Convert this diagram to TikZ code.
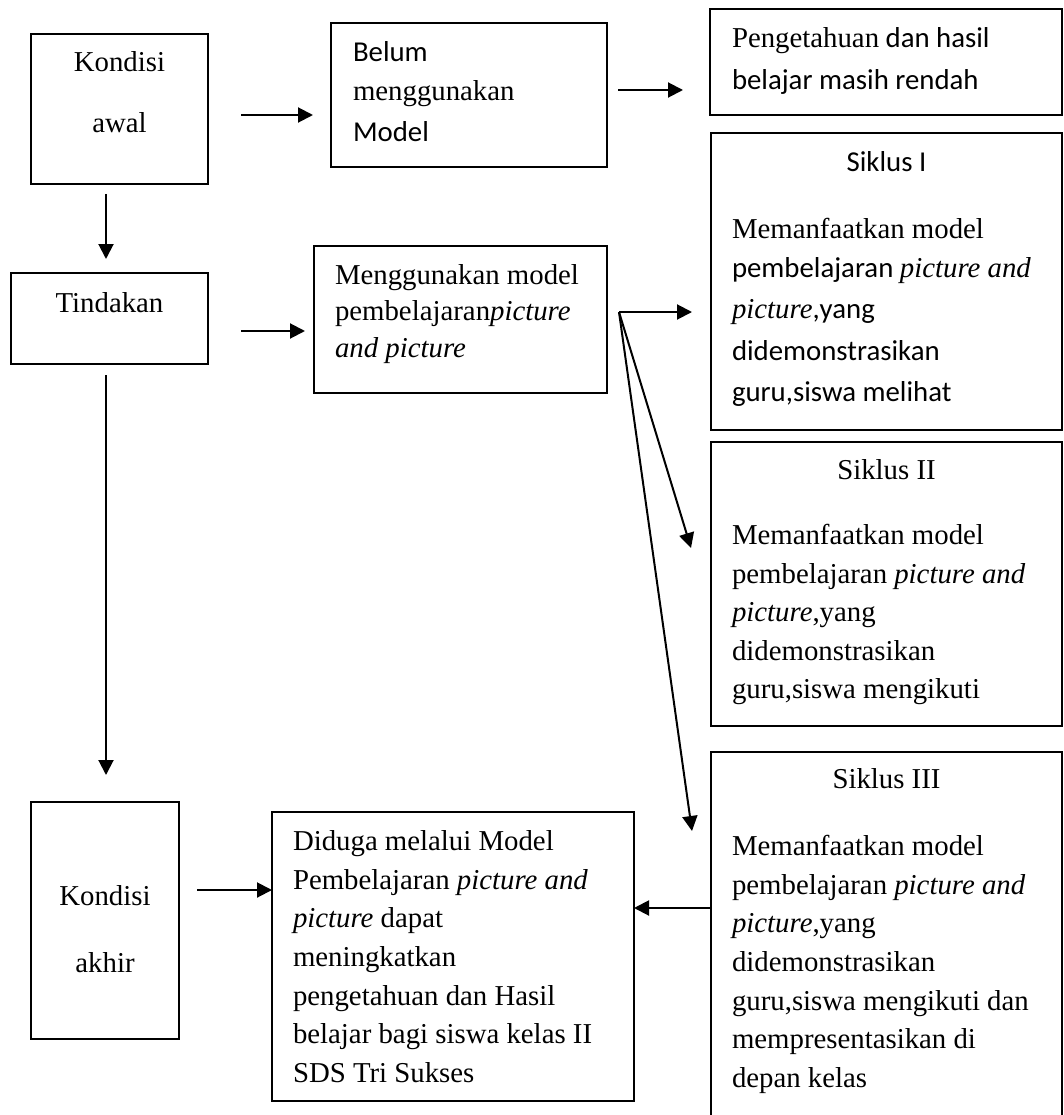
\documentclass[tikz,border=0pt]{standalone}
\usepackage{fontspec}
\setmainfont{Liberation Serif}
\newfontfamily\calib{Carlito}
\usetikzlibrary{arrows.meta}
\begin{document}
\begin{tikzpicture}[x=1pt,y=-1pt,
  box/.style={draw, line width=2pt, inner sep=0pt, outer sep=0pt, anchor=north west},
  arr/.style={line width=2pt, -{Triangle[length=15pt,width=15pt]}},
  txt/.style={inner sep=0pt, outer sep=0pt, font=\fontsize{28.8}{34}\selectfont},
  tl/.style={txt, anchor=base west},
  tc/.style={txt, anchor=base},
]
\useasboundingbox[fill=white] (0,0) rectangle (1064,1115);

% boxes
\node[box, minimum width=177pt, minimum height=150pt] (awal) at (31,34) {};
\node[box, minimum width=276pt, minimum height=144pt] (belum) at (331,23) {};
\node[box, minimum width=352pt, minimum height=106pt] (peng) at (710,9) {};
\node[box, minimum width=197pt, minimum height=91pt] (tind) at (11,273) {};
\node[box, minimum width=293pt, minimum height=147pt] (meng) at (314,246) {};
\node[box, minimum width=351pt, minimum height=297pt] (s1) at (711,133) {};
\node[box, minimum width=351pt, minimum height=284pt] (s2) at (711,442) {};
\node[box, draw=none, minimum width=351pt, minimum height=368pt] (s3) at (711,752) {};
\draw[line width=2pt] (s3.south west) -- (s3.north west) -- (s3.north east) -- (s3.south east);
\node[box, minimum width=148pt, minimum height=237pt] (akhir) at (31,802) {};
\node[box, minimum width=362pt, minimum height=289pt] (diduga) at (272,812) {};

% texts
\node[tc] (aw-1) at (119.5,72) {Kondisi};
\node[tc] (aw-2) at (119.5,133) {awal};

\node[tl] (bl-1) at (353,62) {\calib Belum};
\node[tl] (bl-2) at (353,101) {menggunakan};
\node[tl] (bl-3) at (353,142) {\calib Model};

\node[tl] (pg-1) at (732,48) {Pengetahuan{\calib{} dan hasil}};
\node[tl] (pg-2) at (732,90) {\calib belajar masih rendah};

\node[tc] (tn-1) at (109.5,312) {Tindakan};

\node[tl] (mg-1) at (335,284) {Menggunakan model};
\node[tl] (mg-2) at (335,320) {pembelajaran\textit{picture}};
\node[tl] (mg-3) at (335,357) {\textit{and picture}};

\node[tc] (s1-t) at (886.5,172) {\calib Siklus I};
\node[tl] (s1-1) at (732,238) {Memanfaatkan model};
\node[tl] (s1-2) at (732,277) {{\calib pembelajaran }\textit{picture and}};
\node[tl] (s1-3) at (732,318) {\textit{picture}{\calib ,yang}};
\node[tl] (s1-4) at (732,360) {\calib didemonstrasikan};
\node[tl] (s1-5) at (732,401) {\calib guru,siswa melihat};

\node[tc] (s2-t) at (886.5,479) {Siklus II};
\node[tl] (s2-1) at (732,544) {Memanfaatkan model};
\node[tl] (s2-2) at (732,583) {pembelajaran \textit{picture and}};
\node[tl] (s2-3) at (732,621) {\textit{picture},yang};
\node[tl] (s2-4) at (732,660) {didemonstrasikan};
\node[tl] (s2-5) at (732,698) {guru,siswa mengikuti};

\node[tc] (s3-t) at (886.5,788) {Siklus III};
\node[tl] (s3-1) at (732,855) {Memanfaatkan model};
\node[tl] (s3-2) at (732,894) {pembelajaran \textit{picture and}};
\node[tl] (s3-3) at (732,932) {\textit{picture},yang};
\node[tl] (s3-4) at (732,971) {didemonstrasikan};
\node[tl] (s3-5) at (732,1010) {guru,siswa mengikuti dan};
\node[tl] (s3-6) at (732,1048) {mempresentasikan di};
\node[tl] (s3-7) at (732,1087) {depan kelas};

\node[tc] (ak-1) at (105,905) {Kondisi};
\node[tc] (ak-2) at (105,972) {akhir};

\node[tl] (dg-1) at (293,850) {Diduga melalui Model};
\node[tl] (dg-2) at (293,889) {Pembelajaran \textit{picture and}};
\node[tl] (dg-3) at (293,927) {\textit{picture} dapat};
\node[tl] (dg-4) at (293,966) {meningkatkan};
\node[tl] (dg-5) at (293,1005) {pengetahuan dan Hasil};
\node[tl] (dg-6) at (293,1043) {belajar bagi siswa kelas II};
\node[tl] (dg-7) at (293,1082) {SDS Tri Sukses};

% connectors
\draw[arr, shorten <=33pt, shorten >=18pt] (awal.east |- 0,115) -- (belum.west |- 0,115);
\draw[arr, shorten <=11pt, shorten >=27pt] (belum.east |- 0,90) -- (peng.west |- 0,90);
\draw[arr, shorten <=10pt, shorten >=14pt] (awal.south -| 106,0) -- (tind.north -| 106,0);
\draw[arr, shorten <=33pt, shorten >=9pt] (tind.east |- 0,331) -- (meng.west |- 0,331);
\draw[arr, shorten <=11pt, shorten >=27pt] (tind.south -| 106,0) -- (akhir.north -| 106,0);
\coordinate (fan) at (619,312);
\coordinate (tip2) at (691,548);
\coordinate (tip3) at (692,831);
\draw[arr, shorten >=19pt] (fan) -- (s1.west |- fan);
\draw[arr] (fan) -- (tip2);
\draw[arr] (fan) -- (tip3);
\draw[arr, shorten <=18pt] (akhir.east |- 0,890) -- (diduga.west |- 0,890);
\draw[arr] (s3.west |- 0,908) -- (diduga.east |- 0,908);
\end{tikzpicture}
\end{document}
